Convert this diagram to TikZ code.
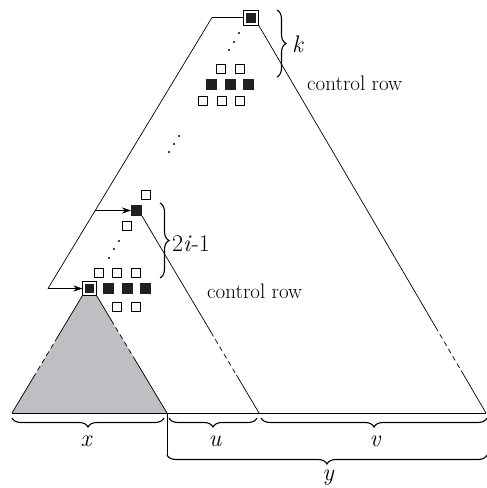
\documentclass[tikz,border=0pt]{standalone}
\usepackage{fontspec}
\usetikzlibrary{decorations.pathreplacing,calc,arrows.meta,backgrounds}
\definecolor{trigray}{RGB}{190,191,194}
\definecolor{sqblack}{RGB}{35,31,32}
\begin{document}
\begin{tikzpicture}[x=1pt,y=-1pt,
  edge/.style={line width=0.7pt},
  dashpart/.style={line width=0.7pt, dash pattern=on 5pt off 3.5pt},
  arr/.style={line width=0.7pt, -{Stealth[length=9pt,width=6pt]}},
  osq/.style={draw, line width=0.8pt, fill=white, minimum size=9pt, inner sep=0pt, outer sep=0pt},
  fsq/.style={fill=sqblack, minimum size=11pt, inner sep=0pt, outer sep=0pt},
  frtop/.style={draw, line width=0.9pt, fill=white, minimum size=15pt, inner sep=0pt, outer sep=0pt},
  frbot/.style={draw, line width=0.9pt, fill=white, minimum size=14pt, inner sep=0pt, outer sep=0pt},
  brc/.style={decorate, decoration={brace, amplitude=9pt}, line width=1.1pt},
  lab/.style={font=\fontsize{24}{28}\selectfont, inner sep=0pt},
  ctl/.style={font=\fontsize{21}{25}\selectfont, inner sep=0pt, anchor=base west},
  dotm/.style={fill=black}
]
\useasboundingbox (0,0) rectangle (487,488);

% top framed square
\node[frtop] (T) at (251,17.5) {};
\node[fsq, minimum size=10pt] (Ti) at (T) {};
% top cluster
\node[osq] (t1) at (220.5,69) {};
\node[osq] (t2) at (239.5,69) {};
\node[fsq] (t3) at (211.5,84.5) {};
\node[fsq] (t4) at (230,84.5) {};
\node[fsq] (t5) at (248.5,84.5) {};
\node[osq] (t6) at (202.5,101) {};
\node[osq] (t7) at (221.5,101) {};
\node[osq] (t8) at (239.5,101) {};
% middle
\node[osq] (m1) at (146,194.5) {};
\node[fsq] (M) at (136.5,210.5) {};
\node[osq] (m2) at (127,226) {};
% lower cluster
\node[osq] (l1) at (98.5,273) {};
\node[osq] (l2) at (117,273) {};
\node[osq] (l3) at (135.5,273) {};
\node[frbot] (B) at (89.5,288.5) {};
\node[fsq, minimum size=9.5pt] (Bi) at (B) {};
\node[fsq] (l4) at (108,288.5) {};
\node[fsq] (l5) at (127,288.5) {};
\node[fsq] (l6) at (145.5,288.5) {};
\node[osq] (l7) at (117,307) {};
\node[osq] (l8) at (135.5,307) {};

% dots
\fill[dotm] (239,33) circle (1.2pt) (234,42) circle (1.2pt) (229,50) circle (1.2pt);
\fill[dotm] (179,136) circle (1.2pt) (174,144) circle (1.2pt) (169,152) circle (1.2pt);
\fill[dotm] (119,241) circle (1.2pt) (114,249) circle (1.2pt) (109,258) circle (1.2pt);

% coordinates
\coordinate (TL) at (212,17.5);
\coordinate (BL) at (48,288.5);
\coordinate (R) at (486,413);
\coordinate (MR) at (259,413);
\coordinate (GL) at (12,413);
\coordinate (GR) at (167,413);
\coordinate (YS) at (167,455);

% gray triangle fill
\begin{scope}[on background layer]
\fill[trigray] (B.south west) -- (B.south east) -- (GR) -- (GL) -- cycle;
\end{scope}

% outer shape
\draw[edge] (TL) -- (T.west);
\draw[edge] (TL) -- (BL);
\draw[arr] (BL) -- (B.west);
\path (TL) -- (BL) coordinate[pos=0.712] (ua);
\draw[arr] (ua) -- (M.west);

\path (T.south east) -- (R) coordinate[pos=0.778] (r1) coordinate[pos=0.894] (r2);
\draw[edge] (T.south east) -- (r1);
\draw[dashpart] (r1) -- (r2);
\draw[edge] (r2) -- (R);

\path (M.south east) -- (MR) coordinate[pos=0.589] (q1) coordinate[pos=0.807] (q2);
\draw[edge] (M.south east) -- (q1);
\draw[dashpart] (q1) -- (q2);
\draw[edge] (q2) -- (MR);

\path (B.south west) -- (GL) coordinate[pos=0.353] (g1) coordinate[pos=0.694] (g2);
\draw[edge] (B.south west) -- (g1);
\draw[dashpart] (g1) -- (g2);
\draw[edge] (g2) -- (GL);

\path (B.south east) -- (GR) coordinate[pos=0.209] (h1) coordinate[pos=0.549] (h2);
\draw[edge] (B.south east) -- (h1);
\draw[dashpart] (h1) -- (h2);
\draw[edge] (h2) -- (GR);

\draw[edge] (GL) -- (R);
\draw[edge] (GR) -- (YS);

% braces
\draw[brc] (277,10) -- (277,77);
\node[lab, anchor=west] (klab) at (292,44.5) {\itshape k};
\draw[brc] (160,203) -- (160,278);
\node[lab, anchor=west] (ilab) at (172,244) {2\textit{i}-1};

\node[ctl] (c1) at (307,90) {control row};
\node[ctl] (c2) at (207,298) {control row};

\draw[brc] (164,418) -- (12,418);
\draw[brc] (257,418) -- (169,418);
\draw[brc] (487,418) -- (261,418);
\draw[brc] (487,455) -- (YS);

\node[lab] (xl) at (86,441) {\itshape x};
\node[lab] (ul) at (215,441) {\itshape u};
\node[lab] (vl) at (375,441) {\itshape v};
\node[lab] (yl) at (328,478) {\itshape y};
\end{tikzpicture}
\end{document}
